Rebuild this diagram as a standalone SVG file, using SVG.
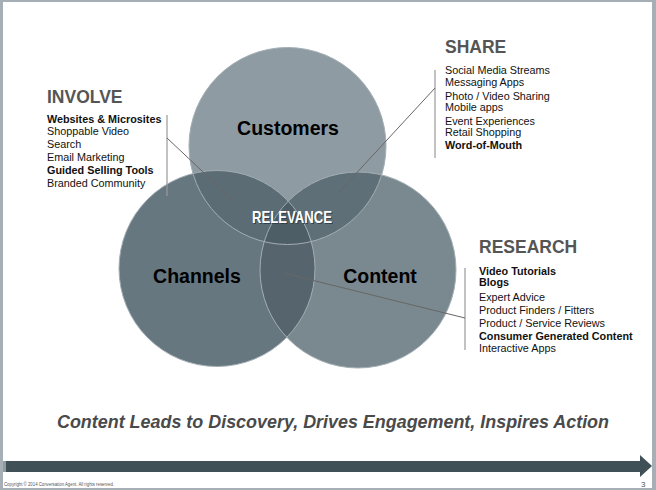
<svg xmlns="http://www.w3.org/2000/svg" width="656" height="490" viewBox="0 0 656 490">
<style>
.h{font-family:"Liberation Sans",Arial,sans-serif;font-weight:bold;font-size:17.5px;fill:#555}
.i{font-family:"Liberation Sans",Arial,sans-serif;font-size:10.8px;fill:#111}
.b{font-weight:bold}
.c{font-family:"Liberation Sans",Arial,sans-serif;font-weight:bold;font-size:19.5px;fill:#000;text-anchor:middle}
.rim{fill:none;stroke:#a3aeb4;stroke-width:1}
.ln{stroke:#666;stroke-width:1;fill:none}
.br{stroke:#999;stroke-width:1.2;fill:none}
.rel{font-family:"Liberation Sans",Arial,sans-serif;font-weight:bold;font-size:17px;text-anchor:middle}
</style>
<defs>
<clipPath id="cCu"><circle cx="287.5" cy="146" r="98.5"/></clipPath>
<clipPath id="cCh"><circle cx="217" cy="268.5" r="98"/></clipPath>
<clipPath id="cCo"><circle cx="358" cy="270" r="98"/></clipPath>
</defs>
<rect width="656" height="490" fill="#fff"/>
<g id="frame">
<rect x="0" y="0" width="656" height="2" fill="#a7afb6"/>
<rect x="0" y="0" width="3" height="490" fill="#a7afb6"/>
<rect x="652" y="0" width="4" height="490" fill="#a7afb6"/>
<rect x="0" y="488" width="656" height="2" fill="#a7afb6"/>
</g>
<g id="customers"><circle cx="287.5" cy="146" r="98.5" fill="#8f9ba2"/></g>
<g id="channels"><circle cx="217" cy="268.5" r="98" fill="#67777f"/></g>
<g id="content"><circle cx="358" cy="270" r="98" fill="#7a8990"/></g>
<g id="overlaps">
<g clip-path="url(#cCu)"><circle cx="217" cy="268.5" r="98" fill="#5c6c75"/><circle cx="358" cy="270" r="98" fill="#5f6f78"/></g>
<g clip-path="url(#cCh)"><circle cx="358" cy="270" r="98" fill="#56656d"/></g>
<g clip-path="url(#cCu)"><g clip-path="url(#cCh)"><circle cx="358" cy="270" r="98" fill="#4e5e67"/></g></g>
<circle class="rim" cx="287.5" cy="146" r="98.5"/>
<circle class="rim" cx="217" cy="268.5" r="98"/>
<circle class="rim" cx="358" cy="270" r="98"/>
</g>
<g id="connectors">
<line class="br" x1="167" y1="115" x2="167" y2="196"/>
<line class="ln" x1="167" y1="138" x2="236" y2="203"/>
<line class="br" x1="435" y1="70" x2="435" y2="158"/>
<line class="ln" x1="435" y1="88" x2="338" y2="193"/>
<line class="br" x1="465" y1="268" x2="465" y2="350"/>
<line class="ln" x1="465" y1="318" x2="283" y2="273"/>
</g>
<g id="labels">
<text class="c" x="288" y="135">Customers</text>
<text class="c" x="197" y="283">Channels</text>
<text class="c" x="380" y="283">Content</text>
<text class="rel" x="293" y="224" fill="#33424a" textLength="80" lengthAdjust="spacingAndGlyphs">RELEVANCE</text>
<text class="rel" x="292" y="223" fill="#fff" textLength="80" lengthAdjust="spacingAndGlyphs">RELEVANCE</text>
</g>
<g id="involve">
<text class="h" x="47" y="103">INVOLVE</text>
<text class="i b" x="47" y="123">Websites &amp; Microsites</text>
<text class="i" x="47" y="135">Shoppable Video</text>
<text class="i" x="47" y="148">Search</text>
<text class="i" x="47" y="161">Email Marketing</text>
<text class="i b" x="47" y="174">Guided Selling Tools</text>
<text class="i" x="47" y="187">Branded Community</text>
</g>
<g id="share">
<text class="h" x="445" y="53">SHARE</text>
<text class="i" x="445" y="74">Social Media Streams</text>
<text class="i" x="445" y="85.5">Messaging Apps</text>
<text class="i" x="445" y="99.5">Photo / Video Sharing</text>
<text class="i" x="445" y="111">Mobile apps</text>
<text class="i" x="445" y="124.5">Event Experiences</text>
<text class="i" x="445" y="135.5">Retail Shopping</text>
<text class="i b" x="445" y="149">Word-of-Mouth</text>
</g>
<g id="research">
<text class="h" x="479" y="253">RESEARCH</text>
<text class="i b" x="479" y="275">Video Tutorials</text>
<text class="i b" x="479" y="286">Blogs</text>
<text class="i" x="479" y="301">Expert Advice</text>
<text class="i" x="479" y="313.5">Product Finders / Fitters</text>
<text class="i" x="479" y="327">Product / Service Reviews</text>
<text class="i b" x="479" y="339.5">Consumer Generated Content</text>
<text class="i" x="479" y="352">Interactive Apps</text>
</g>
<g id="footer">
<text x="57" y="428" font-family="Liberation Sans,Arial,sans-serif" font-weight="bold" font-style="italic" font-size="18" fill="#4a4a4a" textLength="552" lengthAdjust="spacingAndGlyphs">Content Leads to Discovery, Drives Engagement, Inspires Action</text>
<rect x="3" y="461" width="3" height="11" fill="#8e9ca2"/>
<rect x="6" y="461" width="636" height="11" fill="#3f5057"/>
<polygon points="640,455 652,466 640,477" fill="#3f5057"/>
<text x="4" y="486" font-family="Liberation Sans,Arial,sans-serif" font-size="5.5" fill="#555" textLength="110" lengthAdjust="spacingAndGlyphs">Copyright © 2014 Conversation Agent. All rights reserved.</text>
<text x="641" y="487" font-family="Liberation Sans,Arial,sans-serif" font-size="8" fill="#555">3</text>
</g>
</svg>
